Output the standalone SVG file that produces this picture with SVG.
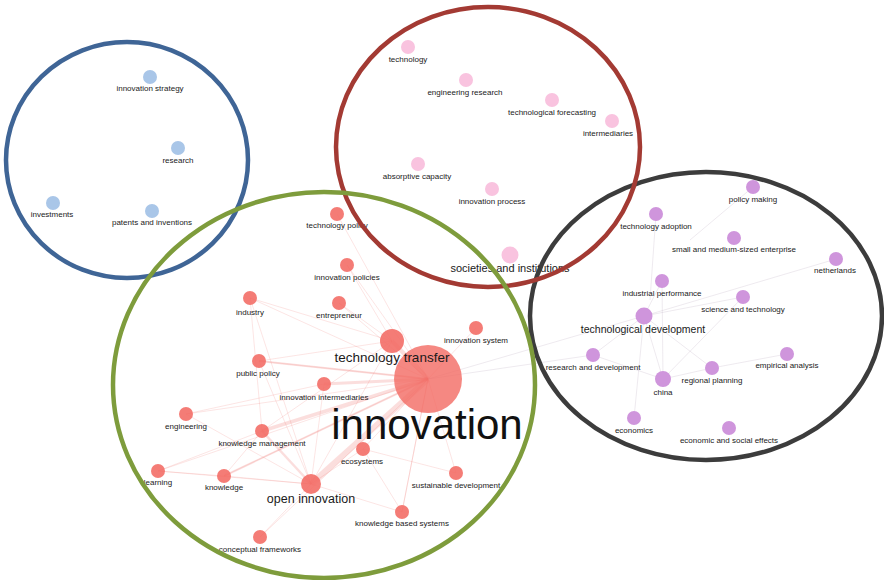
<svg xmlns="http://www.w3.org/2000/svg" width="884" height="580" viewBox="0 0 884 580">
<style>
text{font-family:"Liberation Sans","DejaVu Sans",sans-serif;fill:#1a1a1a;text-anchor:middle;font-size:8px}
.b{fill:#a9c6e8}
.p{fill:#f9c3df}
.v{fill:#cf95dc}
.r{fill:#f26a63;fill-opacity:.88}
.e{stroke:#f08a84;stroke-opacity:.28;fill:none}
.g{stroke:#b9a9bd;stroke-opacity:.35;fill:none;stroke-width:.7}
.ring{fill:none;stroke-width:4.5}
</style>
<rect width="884" height="580" fill="#fff"/>
<g id="connectors">
<g class="e" stroke-width="0.8">
<line x1="428" y1="379" x2="337" y2="214"/>
<line x1="428" y1="379" x2="347" y2="265"/>
<line x1="428" y1="379" x2="250" y2="298"/>
<line x1="428" y1="379" x2="339" y2="303"/>
<line x1="428" y1="379" x2="476" y2="328"/>
<line x1="428" y1="379" x2="259" y2="361"/>
<line x1="428" y1="379" x2="186" y2="414"/>
<line x1="428" y1="379" x2="363" y2="449"/>
<line x1="428" y1="379" x2="158" y2="471"/>
<line x1="428" y1="379" x2="224" y2="476"/>
<line x1="428" y1="379" x2="456" y2="473"/>
<line x1="428" y1="379" x2="402" y2="512"/>
<line x1="428" y1="379" x2="260" y2="537"/>
<line x1="392" y1="341" x2="250" y2="298"/>
<line x1="392" y1="341" x2="339" y2="303"/>
<line x1="392" y1="341" x2="347" y2="265"/>
<line x1="392" y1="341" x2="259" y2="361"/>
<line x1="392" y1="341" x2="262" y2="431"/>
<line x1="392" y1="341" x2="311" y2="484"/>
<line x1="311" y1="484" x2="158" y2="471"/>
<line x1="311" y1="484" x2="224" y2="476"/>
<line x1="311" y1="484" x2="186" y2="414"/>
<line x1="311" y1="484" x2="324" y2="384"/>
<line x1="311" y1="484" x2="260" y2="537"/>
<line x1="311" y1="484" x2="402" y2="512"/>
<line x1="311" y1="484" x2="363" y2="449"/>
<line x1="311" y1="484" x2="250" y2="298"/>
<line x1="311" y1="484" x2="259" y2="361"/>
<line x1="158" y1="471" x2="224" y2="476"/>
<line x1="158" y1="471" x2="262" y2="431"/>
<line x1="224" y1="476" x2="262" y2="431"/>
<line x1="186" y1="414" x2="324" y2="384"/>
<line x1="363" y1="449" x2="402" y2="512"/>
<line x1="456" y1="473" x2="363" y2="449"/>
<line x1="402" y1="512" x2="428" y2="379"/>
<line x1="250" y1="298" x2="262" y2="431"/>
</g>
<g class="e">
<line x1="428" y1="379" x2="311" y2="484" stroke-width="6"/>
<line x1="428" y1="379" x2="392" y2="341" stroke-width="4"/>
<line x1="428" y1="379" x2="262" y2="431" stroke-width="3.5"/>
<line x1="428" y1="379" x2="324" y2="384" stroke-width="3"/>
<line x1="428" y1="379" x2="259" y2="361" stroke-width="2"/>
<line x1="428" y1="379" x2="224" y2="476" stroke-width="2"/>
<line x1="311" y1="484" x2="262" y2="431" stroke-width="2.5"/>
</g>
<g class="g">
<line x1="428" y1="379" x2="644" y2="316"/>
<line x1="428" y1="379" x2="593" y2="355"/>
<line x1="644" y1="316" x2="836" y2="259"/>
<line x1="644" y1="316" x2="743" y2="297"/>
<line x1="644" y1="316" x2="662" y2="281"/>
<line x1="644" y1="316" x2="663" y2="379"/>
<line x1="644" y1="316" x2="593" y2="355"/>
<line x1="644" y1="316" x2="634" y2="418"/>
<line x1="644" y1="316" x2="712" y2="368"/>
<line x1="663" y1="379" x2="712" y2="368"/>
<line x1="663" y1="379" x2="743" y2="297"/>
<line x1="663" y1="379" x2="593" y2="355"/>
<line x1="712" y1="368" x2="787" y2="354"/>
<line x1="662" y1="281" x2="663" y2="379"/>
<line x1="753" y1="187" x2="690" y2="240"/>
<line x1="656" y1="214" x2="650" y2="300"/>
</g>
</g>
<g id="n-innovation-strategy"><circle class="b" cx="150" cy="77" r="7"/><text x="150" y="91">innovation strategy</text></g>
<g id="n-research"><circle class="b" cx="178" cy="148" r="7"/><text x="178" y="163">research</text></g>
<g id="n-investments"><circle class="b" cx="53" cy="203" r="7"/><text x="52" y="217">investments</text></g>
<g id="n-patents"><circle class="b" cx="152" cy="211" r="7"/><text x="152" y="225">patents and inventions</text></g>

<g id="n-technology"><circle class="p" cx="408" cy="47" r="7"/><text x="408" y="62">technology</text></g>
<g id="n-engineering-research"><circle class="p" cx="466" cy="80" r="7"/><text x="465" y="95">engineering research</text></g>
<g id="n-technological-forecasting"><circle class="p" cx="552" cy="100" r="7"/><text x="552" y="115">technological forecasting</text></g>
<g id="n-intermediaries"><circle class="p" cx="612" cy="121" r="7"/><text x="608" y="136">intermediaries</text></g>
<g id="n-absorptive-capacity"><circle class="p" cx="418" cy="164" r="7"/><text x="417" y="179">absorptive capacity</text></g>
<g id="n-innovation-process"><circle class="p" cx="492" cy="189" r="7"/><text x="492" y="204">innovation process</text></g>
<g id="n-societies"><circle class="p" cx="510" cy="255" r="8.5"/><text x="510" y="272" style="font-size:11px">societies and institutions</text></g>

<g id="n-policy-making"><circle class="v" cx="753" cy="187" r="7"/><text x="753" y="202">policy making</text></g>
<g id="n-technology-adoption"><circle class="v" cx="656" cy="214" r="7"/><text x="656" y="229">technology adoption</text></g>
<g id="n-sme"><circle class="v" cx="734" cy="238" r="7"/><text x="734" y="252">small and medium-sized enterprise</text></g>
<g id="n-netherlands"><circle class="v" cx="836" cy="259" r="7"/><text x="835" y="273">netherlands</text></g>
<g id="n-industrial-performance"><circle class="v" cx="662" cy="281" r="7"/><text x="662" y="296">industrial performance</text></g>
<g id="n-science-technology"><circle class="v" cx="743" cy="297" r="7"/><text x="743" y="312">science and technology</text></g>
<g id="n-technological-development"><circle class="v" cx="644" cy="316" r="8.5"/><text x="643" y="333" style="font-size:10.5px">technological development</text></g>
<g id="n-research-development"><circle class="v" cx="593" cy="355" r="7"/><text x="593" y="370">research and development</text></g>
<g id="n-china"><circle class="v" cx="663" cy="379" r="8"/><text x="663" y="395">china</text></g>
<g id="n-regional-planning"><circle class="v" cx="712" cy="368" r="7"/><text x="712" y="383">regional planning</text></g>
<g id="n-empirical-analysis"><circle class="v" cx="787" cy="354" r="7"/><text x="787" y="368">empirical analysis</text></g>
<g id="n-economics"><circle class="v" cx="634" cy="418" r="7"/><text x="634" y="433">economics</text></g>
<g id="n-economic-social"><circle class="v" cx="729" cy="428" r="7"/><text x="729" y="443">economic and social effects</text></g>

<g id="n-technology-policy"><circle class="r" cx="337" cy="214" r="7"/><text x="337" y="228">technology policy</text></g>
<g id="n-innovation-policies"><circle class="r" cx="347" cy="265" r="7"/><text x="347" y="280">innovation policies</text></g>
<g id="n-industry"><circle class="r" cx="250" cy="298" r="7"/><text x="250" y="315">industry</text></g>
<g id="n-entrepreneur"><circle class="r" cx="339" cy="303" r="7"/><text x="339" y="318">entrepreneur</text></g>
<g id="n-innovation-system"><circle class="r" cx="476" cy="328" r="7"/><text x="476" y="343">innovation system</text></g>
<g id="n-innovation"><circle class="r" cx="428" cy="379" r="34" style="fill-opacity:.8"/><text x="427" y="439" style="font-size:42px;fill:#111">innovation</text></g>
<g id="n-technology-transfer"><circle class="r" cx="392" cy="341" r="12"/><text x="392" y="362" style="font-size:13.5px">technology transfer</text></g>
<g id="n-public-policy"><circle class="r" cx="259" cy="361" r="7"/><text x="258" y="376">public policy</text></g>
<g id="n-innovation-intermediaries"><circle class="r" cx="324" cy="384" r="7"/><text x="324" y="400">innovation intermediaries</text></g>
<g id="n-engineering"><circle class="r" cx="186" cy="414" r="7"/><text x="186" y="429">engineering</text></g>
<g id="n-knowledge-management"><circle class="r" cx="262" cy="431" r="7"/><text x="262" y="446">knowledge management</text></g>
<g id="n-ecosystems"><circle class="r" cx="363" cy="449" r="7"/><text x="362" y="464">ecosystems</text></g>
<g id="n-learning"><circle class="r" cx="158" cy="471" r="7"/><text x="158" y="485">learning</text></g>
<g id="n-knowledge"><circle class="r" cx="224" cy="476" r="7"/><text x="224" y="490">knowledge</text></g>
<g id="n-open-innovation"><circle class="r" cx="311" cy="484" r="10"/><text x="311" y="503" style="font-size:12.5px">open innovation</text></g>
<g id="n-sustainable-development"><circle class="r" cx="456" cy="473" r="7"/><text x="456" y="488">sustainable development</text></g>
<g id="n-knowledge-based-systems"><circle class="r" cx="402" cy="512" r="7"/><text x="402" y="526">knowledge based systems</text></g>
<g id="n-conceptual-frameworks"><circle class="r" cx="260" cy="537" r="7"/><text x="260" y="552">conceptual frameworks</text></g>

<g id="clusters">
<ellipse class="ring" cx="127" cy="160" rx="121" ry="118" stroke="#3f6596"/>
<ellipse class="ring" cx="706" cy="316" rx="176" ry="144" stroke="#3c3c3c"/>
<ellipse class="ring" cx="488" cy="147" rx="152" ry="140" stroke="#a33a33"/>
<ellipse class="ring" cx="324" cy="385" rx="211" ry="193" stroke="#7e9c3c"/>
</g>
</svg>
